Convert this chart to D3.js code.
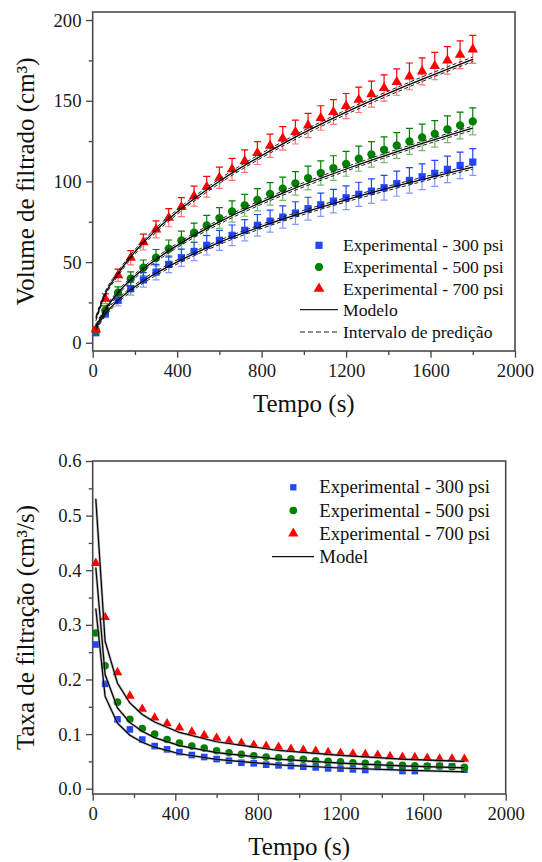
<!DOCTYPE html>
<html>
<head>
<meta charset="utf-8">
<script src="https://cdnjs.cloudflare.com/ajax/libs/d3/7.8.5/d3.min.js"></script>
<style>
  body { margin: 0; padding: 0; background: #fff; }
  svg { display: block; font-family: "Liberation Serif", "Times New Roman", serif; }
</style>
</head>
<body>
<svg width="542" height="862"></svg>
<script>
// experimental time grid (s)
const time = [15, 60, 120, 180, 240, 300, 360, 420, 480, 540, 600, 660, 720, 780, 840, 900,
  960, 1020, 1080, 1140, 1200, 1260, 1320, 1380, 1440, 1500, 1560, 1620, 1680, 1740, 1800];

const seriesNames = ['Experimental - 300 psi', 'Experimental - 500 psi', 'Experimental - 700 psi'];

// filtrate volume (cm3)
const volume300 = [6.2, 18.0, 26.3, 33.5, 39.0, 43.8, 48.6, 52.7, 56.6, 60.4, 63.5, 66.6, 69.7, 72.8, 75.4, 77.9,
  80.4, 83.1, 85.5, 87.8, 89.9, 92.0, 94.0, 96.1, 98.6, 100.6, 102.9, 105.0, 107.5, 109.9, 112.0];
const volume500 = [7.5, 20.1, 31.0, 39.7, 46.5, 52.7, 58.3, 63.5, 68.2, 72.8, 77.3, 81.4, 85.2, 88.6, 92.3, 95.5,
  98.8, 102.1, 105.2, 108.3, 110.9, 114.1, 116.8, 119.6, 122.3, 124.8, 127.3, 129.5, 132.3, 134.7, 137.2];
const volume700 = [8.3, 27.3, 41.8, 52.7, 62.4, 70.3, 77.5, 84.1, 90.9, 96.7, 102.3, 107.5, 112.6, 117.6, 122.1, 126.7,
  130.6, 134.7, 139.3, 143.0, 146.7, 150.6, 154.1, 157.9, 161.6, 165.1, 168.2, 171.5, 175.0, 178.5, 181.8];

// error bar half widths (cm3)
const err300 = [1.5, 2.5, 3.5, 4.0, 4.5, 4.8, 5.1, 5.4, 5.7, 6.0, 6.2, 6.4, 6.6, 6.7, 6.8, 6.9,
  7.0, 7.1, 7.2, 7.3, 7.4, 7.5, 7.6, 7.7, 7.8, 7.9, 8.0, 8.1, 8.2, 8.2, 8.3];
const err500 = [1.5, 2.8, 3.7, 4.3, 4.8, 5.1, 5.4, 5.7, 6.0, 6.2, 6.4, 6.6, 6.8, 6.9, 7.0, 7.2,
  7.3, 7.4, 7.5, 7.6, 7.7, 7.8, 7.9, 8.0, 8.0, 8.1, 8.2, 8.2, 8.3, 8.3, 8.4];
const err700 = [1.5, 3.0, 3.8, 4.4, 4.9, 5.3, 5.6, 5.9, 6.2, 6.4, 6.6, 6.8, 7.0, 7.1, 7.2, 7.3,
  7.4, 7.5, 7.6, 7.7, 7.8, 7.9, 8.0, 8.1, 8.2, 8.3, 8.4, 8.5, 8.5, 8.6, 8.7];

// filtration rate (cm3/s)
const rate300 = [0.264, 0.192, 0.127, 0.1085, 0.090, 0.078, 0.072, 0.067, 0.0616, 0.058, 0.0543, 0.0512, 0.0475, 0.0464, 0.044, 0.0427,
  0.0415, 0.0402, 0.039, 0.0372, 0.0366, 0.0354, 0.0342, 0.040, 0.040, 0.0323, 0.0323, 0.041, 0.0415, 0.041, 0.0348];
const rate500 = [0.285, 0.225, 0.1585, 0.127, 0.110, 0.100, 0.090, 0.0835, 0.078, 0.0744, 0.0695, 0.0658, 0.0628, 0.0603, 0.058, 0.0567,
  0.0549, 0.0537, 0.0512, 0.050, 0.0494, 0.0475, 0.0464, 0.0452, 0.0433, 0.0427, 0.042, 0.0415, 0.0415, 0.0402, 0.039];
const rate700 = [0.413, 0.314, 0.213, 0.170, 0.146, 0.130, 0.1195, 0.1115, 0.104, 0.098, 0.0927, 0.0878, 0.0835, 0.080, 0.078, 0.0762,
  0.0726, 0.0707, 0.0689, 0.0665, 0.0653, 0.064, 0.0628, 0.0616, 0.0592, 0.058, 0.0574, 0.0561, 0.0549, 0.0549, 0.0543];

// model curves
const modelTime = [15, 60, 120, 180, 240, 300, 420, 600, 900, 1200, 1500, 1800];
const modelV300 = [9, 17.9, 26.3, 32.8, 38.3, 43.1, 51.4, 62.2, 76.6, 88.6, 99.2, 108.9];
const modelV500 = [10, 20.6, 31.0, 39.0, 45.7, 51.6, 61.9, 74.9, 92.7, 107.7, 121.0, 133.0];
const modelV700 = [15, 30.5, 42.9, 53.3, 62.1, 69.8, 83.2, 100.1, 123.3, 142.9, 160.1, 175.7];
const predHalf = [1.3, 1.3, 1.4];
const modelR300 = [0.330, 0.169, 0.120, 0.098, 0.085, 0.076, 0.064, 0.0536, 0.0437, 0.0379, 0.0339, 0.0309];
const modelR500 = [0.405, 0.209, 0.148, 0.121, 0.105, 0.0935, 0.079, 0.066, 0.054, 0.0468, 0.0418, 0.0382];
const modelR700 = [0.531, 0.270, 0.193, 0.157, 0.136, 0.122, 0.103, 0.086, 0.070, 0.061, 0.054, 0.050];

const xTicks = [0, 400, 800, 1200, 1600, 2000];
const xMinor = [200, 600, 1000, 1400, 1800];
const volTicks = [0, 50, 100, 150, 200];
const volMinor = [25, 75, 125, 175];
const rateTicks = [0, 0.1, 0.2, 0.3, 0.4, 0.5, 0.6];
const rateMinor = [0.05, 0.15, 0.25, 0.35, 0.45, 0.55];

const colors = ['#2246ff', '#008000', '#ff0000'];
const shapes = [d3.symbolSquare, d3.symbolCircle, d3.symbolTriangle];

const svg = d3.select('svg');
svg.append('rect').attr('width', 542).attr('height', 862).attr('fill', '#fff');

function drawAxes(g, x, y, yTicks, yMinorTicks, yFmt, xTitle, yTitle) {
  const [x0, x1] = x.range();
  const [y0, y1] = y.range();
  const tickFont = '18.7px';

  g.append('g').attr('transform', `translate(0,${y0})`)
    .call(d3.axisBottom(x).tickValues(xTicks).tickFormat(d3.format('d')).tickSize(6.7).tickPadding(6).tickSizeOuter(0));
  g.append('g').attr('transform', `translate(0,${y0})`)
    .call(d3.axisBottom(x).tickValues(xMinor).tickFormat('').tickSize(4).tickSizeOuter(0));
  g.append('g').attr('transform', `translate(${x0},0)`)
    .call(d3.axisLeft(y).tickValues(yTicks).tickFormat(yFmt).tickSize(6.7).tickPadding(4.5).tickSizeOuter(0));
  g.append('g').attr('transform', `translate(${x0},0)`)
    .call(d3.axisLeft(y).tickValues(yMinorTicks).tickFormat('').tickSize(4).tickSizeOuter(0));

  g.selectAll('.domain').remove();
  g.selectAll('.tick line').attr('stroke', '#444').attr('stroke-width', 1.3);
  g.selectAll('.tick text').attr('fill', '#1a1a1a').style('font-size', tickFont)
    .style('font-family', '"Liberation Serif", "Times New Roman", serif');

  g.append('rect')
    .attr('x', x0).attr('y', y1).attr('width', x1 - x0).attr('height', y0 - y1)
    .attr('fill', 'none').attr('stroke', '#4a4a4a').attr('stroke-width', 1.6);

  g.append('text').attr('x', (x0 + x1) / 2).attr('y', y0 + 61)
    .attr('text-anchor', 'middle').attr('fill', '#111').style('font-size', '25px').text(xTitle);
  g.append('text')
    .attr('transform', `translate(34,${(y0 + y1) / 2}) rotate(-90)`)
    .attr('text-anchor', 'middle').attr('fill', '#111').style('font-size', '25px').text(yTitle);
}

/* ---------- top chart: filtrate volume ---------- */
const xTop = d3.scaleLinear().domain([0, 2000]).range([92.7, 515]);
const yTop = d3.scaleLinear().domain([-5.1, 205]).range([351, 12]);
const topG = svg.append('g');
drawAxes(topG, xTop, yTop, volTicks, volMinor, d3.format('d'), 'Tempo (s)', 'Volume de filtrado (cm³)');

const volSeries = [volume300, volume500, volume700];
const errSeries = [err300, err500, err700];
const modelVSeries = [modelV300, modelV500, modelV700];

volSeries.forEach((vals, s) => {
  const g = topG.append('g');
  vals.forEach((v, i) => {
    const cx = xTop(time[i]);
    const e = errSeries[s][i];
    const yc = yTop(v), yu = yTop(v + e), yl = yTop(v - e);
    g.append('path').attr('d', `M${cx},${yc}V${yu}M${cx - 3.5},${yu}H${cx + 3.5}`)
      .attr('stroke', colors[s]).attr('stroke-width', 1.2).attr('fill', 'none');
    g.append('path').attr('d', `M${cx},${yc}V${yl}M${cx - 3.5},${yl}H${cx + 3.5}`)
      .attr('stroke', colors[s]).attr('stroke-opacity', 0.55).attr('stroke-width', 1.2).attr('fill', 'none');
  });
});
volSeries.forEach((vals, s) => {
  const size = [52, 54, 48][s];
  topG.append('g').selectAll('path').data(vals).join('path')
    .attr('transform', (d, i) => `translate(${xTop(time[i])},${yTop(d)})`)
    .attr('d', d3.symbol().type(shapes[s]).size(size))
    .attr('fill', colors[s]);
});

const lineTop = d3.line().curve(d3.curveMonotoneX)
  .x((d, i) => xTop(modelTime[i])).y(d => yTop(d));
modelVSeries.forEach((m, s) => {
  topG.append('path').attr('d', lineTop(m.map(v => v + predHalf[s])))
    .attr('fill', 'none').attr('stroke', '#222').attr('stroke-width', 1).attr('stroke-dasharray', '4,2.5');
  topG.append('path').attr('d', lineTop(m.map(v => v - predHalf[s])))
    .attr('fill', 'none').attr('stroke', '#222').attr('stroke-width', 1).attr('stroke-dasharray', '4,2.5');
  topG.append('path').attr('d', lineTop(m))
    .attr('fill', 'none').attr('stroke', '#000').attr('stroke-width', 1.3);
});

// top legend
const legTop = topG.append('g').style('font-size', '17.6px');
const topRows = [245.3, 267, 288.7, 309.7, 332];
seriesNames.forEach((name, s) => {
  legTop.append('path')
    .attr('transform', `translate(319,${topRows[s]})`)
    .attr('d', d3.symbol().type(shapes[s]).size([52, 50, 50][s]))
    .attr('fill', colors[s]);
  legTop.append('text').attr('x', 343).attr('y', topRows[s]).attr('dy', '0.33em').attr('fill', '#111').text(name);
});
legTop.append('line').attr('x1', 300).attr('x2', 338).attr('y1', topRows[3]).attr('y2', topRows[3])
  .attr('stroke', '#222').attr('stroke-width', 1.2);
legTop.append('text').attr('x', 343).attr('y', topRows[3]).attr('dy', '0.33em').attr('fill', '#111').text('Modelo');
legTop.append('line').attr('x1', 300).attr('x2', 338).attr('y1', topRows[4]).attr('y2', topRows[4])
  .attr('stroke', '#222').attr('stroke-width', 1.1).attr('stroke-dasharray', '5,3');
legTop.append('text').attr('x', 343).attr('y', topRows[4]).attr('dy', '0.33em').attr('fill', '#111').text('Intervalo de predição');

/* ---------- bottom chart: filtration rate ---------- */
const xBot = d3.scaleLinear().domain([0, 2000]).range([92.7, 505.7]);
const yBot = d3.scaleLinear().domain([-0.0097, 0.6]).range([794, 461]);
const botG = svg.append('g');
drawAxes(botG, xBot, yBot, rateTicks, rateMinor, d3.format('.1f'), 'Tempo (s)', 'Taxa de filtração (cm³/s)');

const rateSeries = [rate300, rate500, rate700];
const modelRSeries = [modelR300, modelR500, modelR700];
rateSeries.forEach((vals, s) => {
  const size = [44, 46, 40][s];
  botG.append('g').selectAll('path').data(vals).join('path')
    .attr('transform', (d, i) => `translate(${xBot(time[i])},${yBot(d)})`)
    .attr('d', d3.symbol().type(shapes[s]).size(size))
    .attr('fill', colors[s]);
});
const lineBot = d3.line().x((d, i) => xBot(modelTime[i])).y(d => yBot(d));
modelRSeries.forEach(m => {
  botG.append('path').attr('d', lineBot(m))
    .attr('fill', 'none').attr('stroke', '#888').attr('stroke-width', 2.6).attr('stroke-opacity', 0.6);
  botG.append('path').attr('d', lineBot(m))
    .attr('fill', 'none').attr('stroke', '#000').attr('stroke-width', 1.2);
});

// bottom legend
const legBot = botG.append('g').style('font-size', '18.7px');
const botRows = [487.3, 510.5, 533.5, 556.7];
seriesNames.forEach((name, s) => {
  legBot.append('path')
    .attr('transform', `translate(293.3,${botRows[s]})`)
    .attr('d', d3.symbol().type(shapes[s]).size([40, 46, 46][s]))
    .attr('fill', colors[s]);
  legBot.append('text').attr('x', 319.3).attr('y', botRows[s]).attr('dy', '0.33em').attr('fill', '#111').text(name);
});
legBot.append('line').attr('x1', 272).attr('x2', 314).attr('y1', botRows[3]).attr('y2', botRows[3])
  .attr('stroke', '#111').attr('stroke-width', 1.2);
legBot.append('text').attr('x', 319.3).attr('y', botRows[3]).attr('dy', '0.33em').attr('fill', '#111').text('Model');
</script>
</body>
</html>
